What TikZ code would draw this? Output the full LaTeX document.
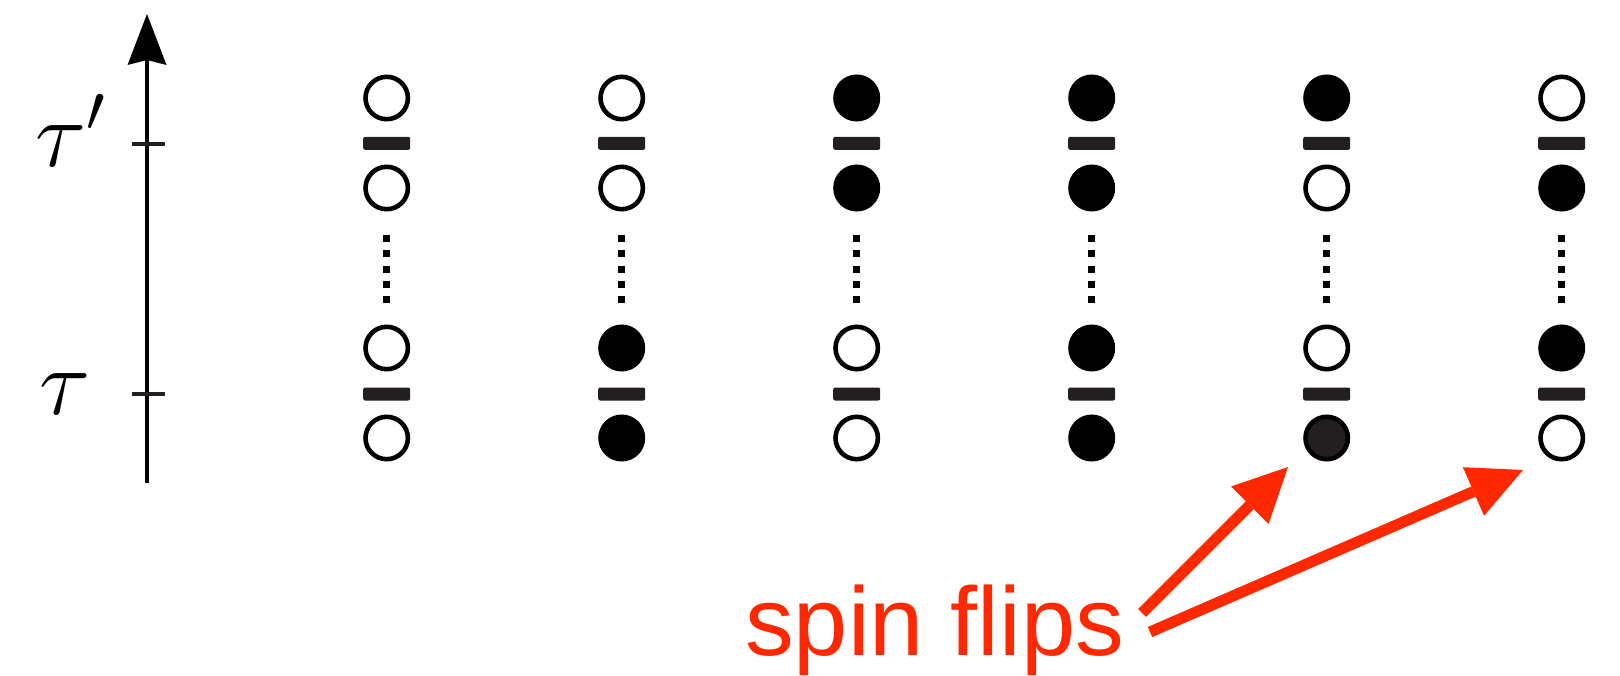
\documentclass[tikz,border=0pt]{standalone}
\usepackage{fix-cm}
\usepackage{fontspec}
\newfontfamily\labelfont{Liberation Sans}
\usetikzlibrary{arrows.meta}
\definecolor{barcol}{HTML}{231F20}
\definecolor{flipred}{RGB}{255,40,0}

\begin{document}
\begin{tikzpicture}[x=1pt,y=-1pt,
  site/.style={circle, draw=black, line width=4.6pt, minimum size=42.4pt, inner sep=0pt},
  bond/.style={rectangle, fill=barcol, minimum width=47pt, minimum height=13pt, inner sep=0pt, rounded corners=2pt},
  chain/.style={line width=7pt, dash pattern=on 7pt off 8.4pt},
  timeaxis/.style={line width=3.3pt, -{Stealth[length=51pt,width=39pt,inset=5pt,line width=0pt]}},
  tickmark/.style={line width=4pt, draw=barcol},
  mathlabel/.style={anchor=base west, inner sep=0pt, font=\fontsize{95}{95}\selectfont},
  flip/.style={draw=flipred, line width=11pt, -{Triangle[length=54pt,width=53pt,line width=0pt]}}
]
\useasboundingbox (0,0) rectangle (1620,675);

% imaginary-time axis with two marked times
\coordinate (t0) at (147,483);
\coordinate (t1) at (147,14);
\draw[timeaxis] (t0) -- (t1);
\coordinate (k1) at (147,144);
\coordinate (k2) at (147,394);
\draw[tickmark] ([xshift=-15pt]k1) -- ([xshift=18pt]k1);
\draw[tickmark] ([xshift=-15pt]k2) -- ([xshift=18pt]k2);
\node[mathlabel] (tauprime) at (35,166) {$\tau'$};
\node[mathlabel] (tau) at (39,414) {$\tau$};

% spin configurations, one column each
\foreach \i/\a/\b/\c/\d in {1/white/white/white/white,
                            2/white/white/black/black,
                            3/black/black/white/white,
                            4/black/black/black/black,
                            5/black/white/white/barcol,
                            6/white/black/black/white}{
  \pgfmathsetmacro\x{386.7+235*(\i-1)}
  \node[site, fill=\a] (s\i-1) at (\x,98) {};
  \node[bond] (b\i-1) at (\x,143.3) {};
  \node[site, fill=\b] (s\i-2) at (\x,188) {};
  \node[site, fill=\c] (s\i-3) at (\x,348) {};
  \node[bond] (b\i-2) at (\x,394) {};
  \node[site, fill=\d] (s\i-4) at (\x,438) {};
  \draw[chain] ([yshift=-23.3pt]s\i-2.south) -- ([yshift=21pt]s\i-3.north);
}

% annotation
\node[anchor=base west, inner sep=0pt, text=flipred,
      font=\labelfont\fontsize{97.4}{97.4}\selectfont] (sf) at (745,655) {spin flips};
\coordinate (a1s) at (1142,613);
\coordinate (a1e) at (1288,467);
\coordinate (a2s) at (1150,632);
\coordinate (a2e) at (1523,470);
\draw[flip] (a1s) -- (a1e);
\draw[flip] (a2s) -- (a2e);
\end{tikzpicture}
\end{document}
